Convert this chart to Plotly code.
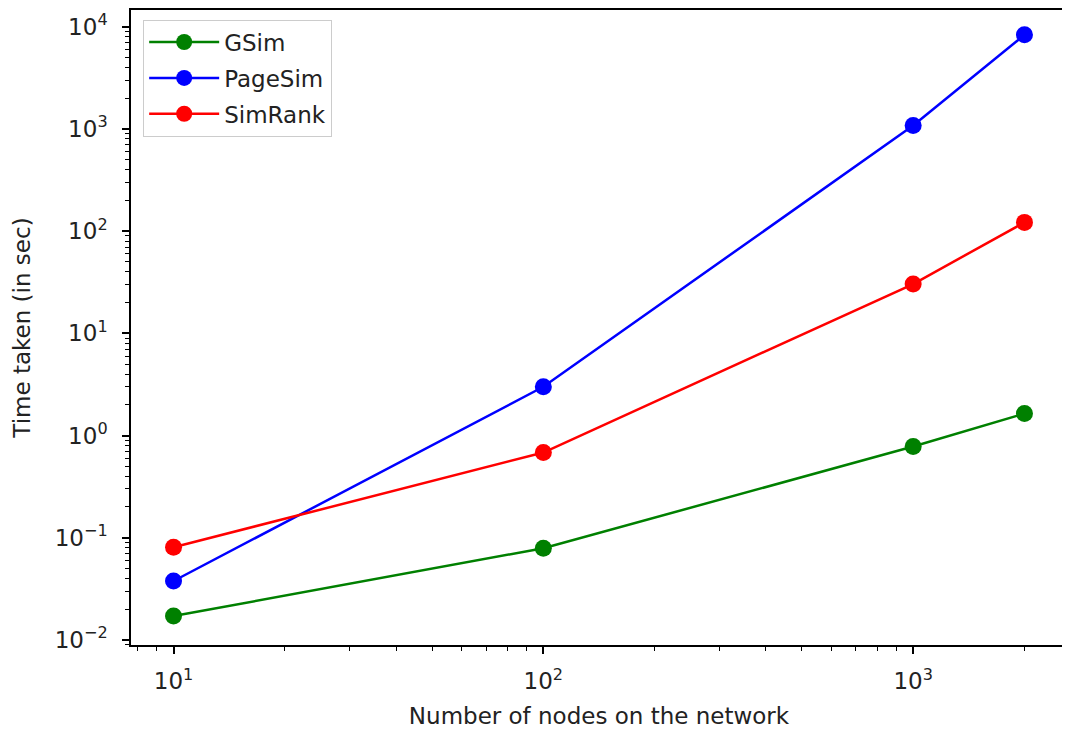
import plotly.graph_objects as go

nodes = [10, 100, 1000, 2000]
gsim = [0.0171, 0.079, 0.78, 1.64]
pagesim = [0.0377, 3.0, 1081, 8350]
simrank = [0.0807, 0.682, 30.4, 122]

x_tickvals = [10, 100, 1000]
x_ticktext = ["10<sup>1</sup>", "10<sup>2</sup>", "10<sup>3</sup>"]
y_tickvals = [0.01, 0.1, 1, 10, 100, 1000, 10000]
y_ticktext = ["10<sup>−2</sup>", "10<sup>−1</sup>", "10<sup>0</sup>", "10<sup>1</sup>",
              "10<sup>2</sup>", "10<sup>3</sup>", "10<sup>4</sup>"]

series = [("GSim", gsim, "#008000"), ("PageSim", pagesim, "#0000ff"), ("SimRank", simrank, "#ff0000")]

fig = go.Figure()
for name, vals, col in series:
    fig.add_trace(go.Scatter(x=nodes, y=vals, name=name, mode="lines+markers",
                             legendgroup=name,
                             line=dict(color=col, width=2.5),
                             marker=dict(color=col, size=17)))

font = dict(family="DejaVu Sans", size=23, color="#222222")
axis_common = dict(type="log", showline=True, mirror=True, linecolor="black", linewidth=1.5,
                   ticks="outside", ticklen=7, tickwidth=1.5, tickcolor="black",
                   showgrid=False, zeroline=False, tickfont=font,
                   minor=dict(ticks="outside", ticklen=4, tickwidth=1, tickcolor="black",
                              dtick="D1", showgrid=False))

fig.update_layout(
    width=1062, height=721,
    margin=dict(l=123, r=3, t=0, b=84),
    paper_bgcolor="white", plot_bgcolor="white",
    font=font,
    showlegend=True,
    legend=dict(x=0.013, y=0.985, xanchor="left", yanchor="top",
                bgcolor="rgba(255,255,255,0.8)", bordercolor="#cccccc", borderwidth=1,
                font=dict(family="DejaVu Sans", size=23, color="#222222"),
                itemwidth=70, tracegroupgap=3),
)
fig.update_xaxes(**axis_common, range=[0.885, 3.416], tickvals=x_tickvals, ticktext=x_ticktext,
                 ticklabelstandoff=8,
                 title=dict(text="Number of nodes on the network", font=font, standoff=18))
fig.update_yaxes(**axis_common, range=[-2.05, 4.165], tickvals=y_tickvals, ticktext=y_ticktext,
                 ticklabelstandoff=10,
                 title=dict(text="Time taken (in sec)", font=font, standoff=18))

fig.write_html("out.html")
